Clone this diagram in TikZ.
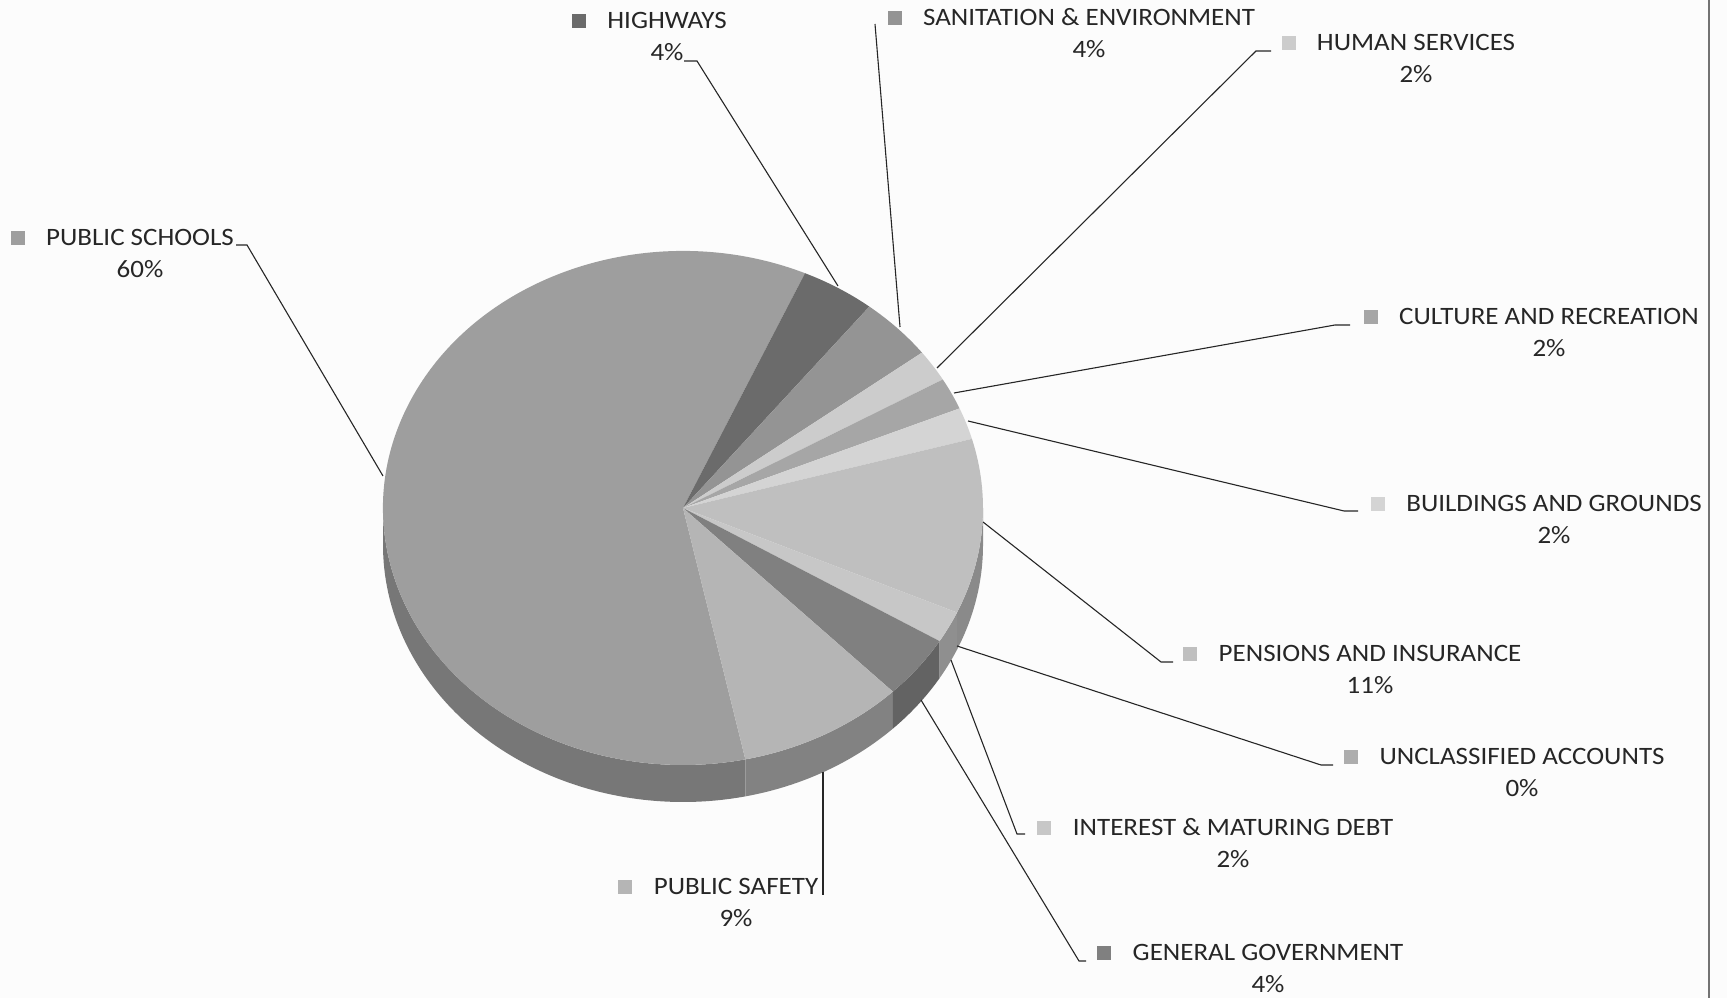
\documentclass[tikz,border=0pt]{standalone}
\usepackage{fontspec}
\setmainfont[FakeStretch=1.08]{Carlito}
\usetikzlibrary{positioning}

% slice colours (grey scale print)
\definecolor{cSch}{gray}{0.62}
\definecolor{cHw}{gray}{0.42}
\definecolor{cSan}{gray}{0.58}
\definecolor{cHs}{gray}{0.80}
\definecolor{cCul}{gray}{0.65}
\definecolor{cBld}{gray}{0.83}
\definecolor{cPen}{gray}{0.75}
\definecolor{cUnc}{gray}{0.68}
\definecolor{cInt}{gray}{0.78}
\definecolor{cGG}{gray}{0.50}
\definecolor{cPS}{gray}{0.71}

\tikzstyle{line} = [draw, line width=1.1pt, black!85]

\begin{document}
\begin{tikzpicture}[x=1pt, y=1pt,
    lbl/.style={font=\fontsize{25}{32}\selectfont, inner sep=0pt, anchor=base, black!85},
    key/.style={minimum size=14pt, inner sep=0pt, draw=none},
    side/.style={x radius=300, y radius=257}]

    % page
    \fill[black!1] (0,0) rectangle (1727,998);
    \useasboundingbox (0,0) rectangle (1727,998);
    \draw[black!55, line width=1.2pt] (1709,0) -- (1709,998);

    % the pie, centre at (683,490)
    \begin{scope}[shift={(683,490)}]
    % side wall, front half only
    \fill[cSch!75!black] (180:300 and 257) arc[start angle=180, end angle=282, side] -- ++(0,-37) arc[start angle=282, end angle=180, side] -- cycle;
    \fill[cPS!72!black] (282:300 and 257) arc[start angle=282, end angle=314.4, side] -- ++(0,-37) arc[start angle=314.4, end angle=282, side] -- cycle;
    \fill[cGG!78!black] (314.4:300 and 257) arc[start angle=314.4, end angle=328.8, side] -- ++(0,-37) arc[start angle=328.8, end angle=314.4, side] -- cycle;
    \fill[cInt!72!black] (328.8:300 and 257) arc[start angle=328.8, end angle=336, side] -- ++(0,-37) arc[start angle=336, end angle=328.8, side] -- cycle;
    \fill[cPen!72!black] (336:300 and 257) arc[start angle=336, end angle=360, side] -- ++(0,-37) arc[start angle=360, end angle=336, side] -- cycle;

    % top face
    \fill[cSch] (0,0) -- (66:300 and 257) arc[start angle=66, end angle=282, side] -- cycle;
    \fill[cHw] (0,0) -- (51.6:300 and 257) arc[start angle=51.6, end angle=66, side] -- cycle;
    \fill[cSan] (0,0) -- (37.2:300 and 257) arc[start angle=37.2, end angle=51.6, side] -- cycle;
    \fill[cHs] (0,0) -- (30:300 and 257) arc[start angle=30, end angle=37.2, side] -- cycle;
    \fill[cCul] (0,0) -- (22.8:300 and 257) arc[start angle=22.8, end angle=30, side] -- cycle;
    \fill[cBld] (0,0) -- (15.6:300 and 257) arc[start angle=15.6, end angle=22.8, side] -- cycle;
    \fill[cPen] (0,0) -- (-24:300 and 257) arc[start angle=-24, end angle=15.6, side] -- cycle;
    \fill[cInt] (0,0) -- (-31.2:300 and 257) arc[start angle=-31.2, end angle=-24, side] -- cycle;
    \fill[cGG] (0,0) -- (-45.6:300 and 257) arc[start angle=-45.6, end angle=-31.2, side] -- cycle;
    \fill[cPS] (0,0) -- (-78:300 and 257) arc[start angle=-78, end angle=-45.6, side] -- cycle;
    \end{scope}

    % labels: name, then percentage below
    \node[lbl] (hwName) at (667,969) {HIGHWAYS};
    \node[lbl, below=32pt of hwName.base, anchor=base] (hwPct) {4\%};
    \node[lbl] (sanName) at (1089,972) {SANITATION \& ENVIRONMENT};
    \node[lbl, below=32pt of sanName.base, anchor=base] (sanPct) {4\%};
    \node[lbl] (hsName) at (1416,947) {HUMAN SERVICES};
    \node[lbl, below=32pt of hsName.base, anchor=base] (hsPct) {2\%};
    \node[lbl] (culName) at (1549,673) {CULTURE AND RECREATION};
    \node[lbl, below=32pt of culName.base, anchor=base] (culPct) {2\%};
    \node[lbl] (bldName) at (1554,486) {BUILDINGS AND GROUNDS};
    \node[lbl, below=32pt of bldName.base, anchor=base] (bldPct) {2\%};
    \node[lbl] (penName) at (1370,336) {PENSIONS AND INSURANCE};
    \node[lbl, below=32pt of penName.base, anchor=base] (penPct) {11\%};
    \node[lbl] (uncName) at (1522,233) {UNCLASSIFIED ACCOUNTS};
    \node[lbl, below=32pt of uncName.base, anchor=base] (uncPct) {0\%};
    \node[lbl] (intName) at (1233,162) {INTEREST \& MATURING DEBT};
    \node[lbl, below=32pt of intName.base, anchor=base] (intPct) {2\%};
    \node[lbl] (ggName) at (1268,37) {GENERAL GOVERNMENT};
    \node[lbl, below=32pt of ggName.base, anchor=base] (ggPct) {4\%};
    \node[lbl] (psName) at (736,103) {PUBLIC SAFETY};
    \node[lbl, below=32pt of psName.base, anchor=base] (psPct) {9\%};
    \node[lbl] (schName) at (140,752) {PUBLIC SCHOOLS};
    \node[lbl, below=32pt of schName.base, anchor=base] (schPct) {60\%};

    % legend keys
    \node[key, fill=cHw, above left=1pt and 21pt of hwName.base west] (hwKey) {};
    \node[key, fill=cSan, above left=1pt and 21pt of sanName.base west] (sanKey) {};
    \node[key, fill=cHs, above left=1pt and 21pt of hsName.base west] (hsKey) {};
    \node[key, fill=cCul, above left=1pt and 21pt of culName.base west] (culKey) {};
    \node[key, fill=cBld, above left=1pt and 21pt of bldName.base west] (bldKey) {};
    \node[key, fill=cPen, above left=1pt and 21pt of penName.base west] (penKey) {};
    \node[key, fill=cUnc, above left=1pt and 21pt of uncName.base west] (uncKey) {};
    \node[key, fill=cInt, above left=1pt and 21pt of intName.base west] (intKey) {};
    \node[key, fill=cGG, above left=1pt and 21pt of ggName.base west] (ggKey) {};
    \node[key, fill=cPS, above left=1pt and 21pt of psName.base west] (psKey) {};
    \node[key, fill=cSch, above left=1pt and 21pt of schName.base west] (schKey) {};

    % leader ends on the pie
    \coordinate (hwEdge) at (838,712);
    \coordinate (sanEdge) at (900,671);
    \coordinate (hsEdge) at (937,630);
    \coordinate (culEdge) at (954,605);
    \coordinate (bldEdge) at (968,577);
    \coordinate (penEdge) at (983,476);
    \coordinate (uncEdge) at (957,352);
    \coordinate (intEdge) at (951,338);
    \coordinate (ggEdge) at (921,298);
    \coordinate (psEdge) at (823,226);
    \coordinate (schEdge) at (383,522);

    % leader bends and ends near the labels
    \coordinate (hwBend) at (697,937);   \coordinate (hwEnd) at (684,937);
    \coordinate (sanEnd) at (875,974);
    \coordinate (hsBend) at (1256,947);  \coordinate (hsEnd) at (1271,947);
    \coordinate (culBend) at (1335,673); \coordinate (culEnd) at (1350,673);
    \coordinate (bldBend) at (1344,487); \coordinate (bldEnd) at (1358,487);
    \coordinate (penBend) at (1161,336); \coordinate (penEnd) at (1173,336);
    \coordinate (uncBend) at (1321,233); \coordinate (uncEnd) at (1333,233);
    \coordinate (intBend) at (1017,164); \coordinate (intEnd) at (1025,164);
    \coordinate (ggBend) at (1079,37);   \coordinate (ggEnd) at (1086,37);
    \coordinate (psEnd) at (823,103);
    \coordinate (schBend) at (247,753);  \coordinate (schEnd) at (236,753);

    \begin{scope}[every path/.style=line]
    % leaders, top of the pie first
    \path (hwEdge) -- (hwBend) -- (hwEnd);
    \path (sanEdge) -- (sanEnd);
    \path (hsEdge) -- (hsBend) -- (hsEnd);
    \path (culEdge) -- (culBend) -- (culEnd);
    \path (bldEdge) -- (bldBend) -- (bldEnd);
    \path (penEdge) -- (penBend) -- (penEnd);

    % leaders from the front of the pie
    \path (uncEdge) -- (uncBend) -- (uncEnd);
    \path (intEdge) -- (intBend) -- (intEnd);
    \path (ggEdge) -- (ggBend) -- (ggEnd);
    \path (psEdge) -- (psEnd);
    \path (schEdge) -- (schBend) -- (schEnd);
    \end{scope}

\end{tikzpicture}
\end{document}
